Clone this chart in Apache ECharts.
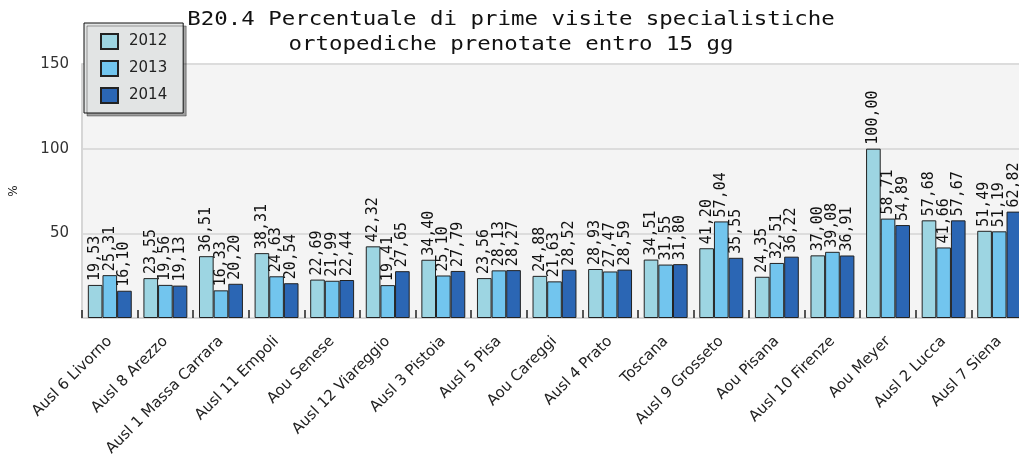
<!DOCTYPE html>
<html>
<head>
<meta charset="utf-8">
<script src="https://cdn.jsdelivr.net/npm/echarts@6/dist/echarts.min.js"></script>
<style>
    html, body { margin: 0; padding: 0; background: #fff; overflow: hidden; }
    #chart { width: 1027px; height: 468px; }
</style>
</head>
<body>
<div id="chart"></div>
<script>
const categories = [
    'Ausl 6 Livorno', 'Ausl 8 Arezzo', 'Ausl 1 Massa Carrara', 'Ausl 11 Empoli',
    'Aou Senese', 'Ausl 12 Viareggio', 'Ausl 3 Pistoia', 'Ausl 5 Pisa',
    'Aou Careggi', 'Ausl 4 Prato', 'Toscana', 'Ausl 9 Grosseto', 'Aou Pisana',
    'Ausl 10 Firenze', 'Aou Meyer', 'Ausl 2 Lucca', 'Ausl 7 Siena'
];
const years = ['2012', '2013', '2014'];
const values2012 = [19.53, 23.55, 36.51, 38.31, 22.69, 42.32, 34.40, 23.56, 24.88, 28.93, 34.51, 41.20, 24.35, 37.00, 100.00, 57.68, 51.49];
const values2013 = [25.31, 19.56, 16.33, 24.63, 21.99, 19.41, 25.10, 28.13, 21.63, 27.47, 31.55, 57.04, 32.51, 39.08, 58.71, 41.66, 51.19];
const values2014 = [16.10, 19.13, 20.20, 20.54, 22.44, 27.65, 27.79, 28.27, 28.52, 28.59, 31.80, 35.55, 36.22, 36.91, 54.89, 57.67, 62.82];
const colors = ['#9dd5e2', '#72c5ee', '#2b66b4'];

const titleLines = [
    'B20.4 Percentuale di prime visite specialistiche',
    'ortopediche prenotate entro 15 gg'
];

const fmt = v => v.toFixed(2).replace('.', ',');

const series = [values2012, values2013, values2014].map((data, i) => ({
    name: years[i],
    type: 'bar',
    data,
    barGap: 0,
    barCategoryGap: '21%',
    itemStyle: { color: colors[i], borderColor: '#222', borderWidth: 1 },
    label: {
        show: true,
        position: 'top',
        rotate: 90,
        align: 'left',
        verticalAlign: 'middle',
        distance: 4,
        fontFamily: 'DejaVu Sans Mono',
        fontSize: 15,
        color: '#111',
        formatter: p => fmt(p.value),
    },
}));

const options = {
    animation: false,
    color: colors,
    graphic: titleLines.map((t, i) => ({
        type: 'text',
        x: 511,
        y: 20 + i * 25,
        scaleX: 1.12,
        z: 0,
        style: {
            text: t,
            x: 0,
            y: 0,
            font: '20px "DejaVu Sans Mono"',
            fill: '#111',
            textAlign: 'center',
            textVerticalAlign: 'middle',
        },
    })),
    legend: {
        data: years,
        orient: 'vertical',
        left: 84,
        top: 23,
        z: 10,
        icon: 'rect',
        padding: [10, 16, 9, 16],
        itemGap: 10,
        itemWidth: 17,
        itemHeight: 15,
        backgroundColor: '#e2e4e4',
        borderColor: '#111',
        borderWidth: 1,
        shadowColor: 'rgba(0,0,0,0.35)',
        shadowOffsetX: 3,
        shadowOffsetY: 3,
        shadowBlur: 0,
        textStyle: { fontFamily: 'DejaVu Sans', fontSize: 15, color: '#222', padding: [0, 0, 0, 6] },
    },
    grid: {
        left: 81,
        top: 64,
        right: 0,
        bottom: 150,
        show: true,
        backgroundColor: '#f4f4f4',
        borderColor: '#dcdcdc',
        borderWidth: 1,
    },
    xAxis: {
        type: 'category',
        data: categories,
        axisLine: { lineStyle: { color: '#d6d6d6', width: 2 } },
        axisTick: { show: true, inside: true, length: 8, interval: 0, lineStyle: { color: '#222', width: 1.5 } },
        axisLabel: {
            interval: 0,
            rotate: 45,
            margin: 21,
            fontFamily: 'DejaVu Sans',
            fontSize: 15,
            color: '#222',
        },
    },
    yAxis: {
        type: 'value',
        min: 0,
        max: 150,
        interval: 50,
        name: '%',
        nameLocation: 'middle',
        nameRotate: 90,
        nameGap: 62,
        nameTextStyle: { fontFamily: 'DejaVu Sans', fontSize: 12, color: '#222' },
        axisLine: { show: true, lineStyle: { color: '#d6d6d6', width: 2 } },
        axisTick: { show: false },
        splitLine: { lineStyle: { color: '#dcdcdc', width: 2 } },
        axisLabel: {
            margin: 13,
            fontFamily: 'DejaVu Sans',
            fontSize: 15,
            color: '#333',
            formatter: v => (v === 0 ? '' : v),
        },
    },
    series,
};

const chart = echarts.init(document.getElementById('chart'));
chart.setOption(options);
</script>
</body>
</html>
